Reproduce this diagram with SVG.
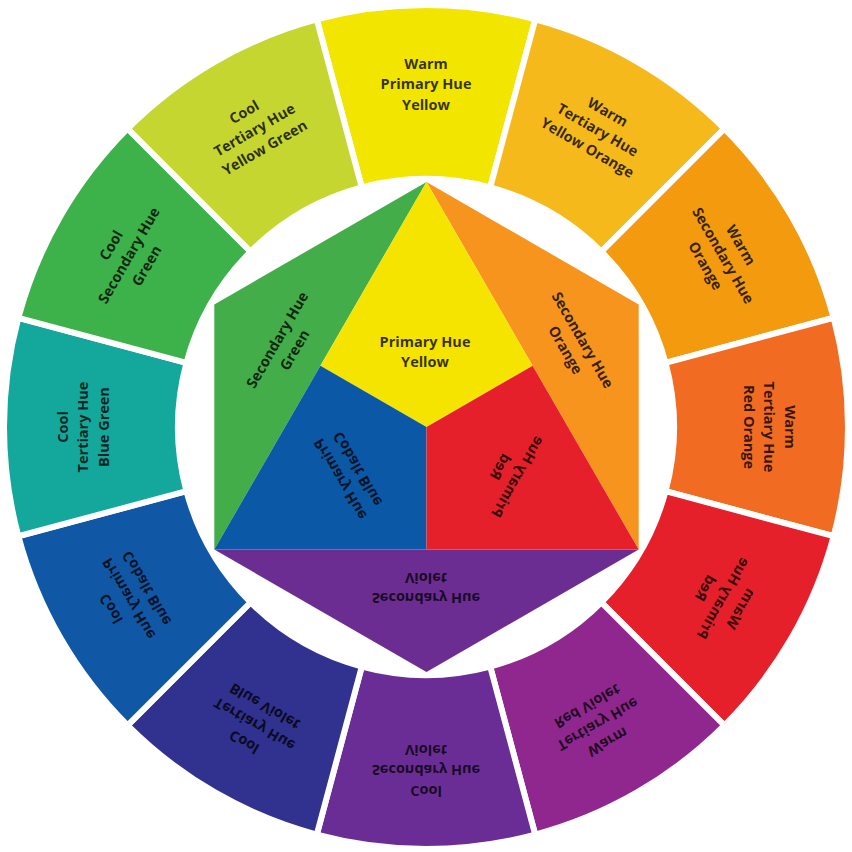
<svg xmlns="http://www.w3.org/2000/svg" width="852" height="852" viewBox="0 0 852 852">
<style>
.seg{stroke:#fff;stroke-width:6;stroke-linejoin:miter}
.t{font-family:"Open Sans","Liberation Sans",sans-serif;font-size:14.5px;font-weight:700;fill:#000;fill-opacity:.78;text-anchor:middle}
</style>
<rect width="852" height="852" fill="#fff"/>
<g id="ring">
<g id="seg-yellow"><path class="seg" fill="#f2e500" d="M316.78,19.38 A422,422 0 0 1 535.22,19.38 L490.19,187.45 A248,248 0 0 0 361.81,187.45 Z"/>
<g class="t" transform="translate(426,84)"><text y="-15.5">Warm</text><text y="5">Primary Hue</text><text y="25.5">Yellow</text></g></g>
<g id="seg-yellow-orange"><path class="seg" fill="#f6b91c" d="M535.22,19.38 A422,422 0 0 1 724.40,128.60 L601.36,251.64 A248,248 0 0 0 490.19,187.45 Z"/>
<g class="t" transform="translate(597.5,129.95) rotate(30)"><text y="-15.5">Warm</text><text y="5">Tertiary Hue</text><text y="25.5">Yellow Orange</text></g></g>
<g id="seg-orange"><path class="seg" fill="#f39a0f" d="M724.40,128.60 A422,422 0 0 1 833.62,317.78 L665.55,362.81 A248,248 0 0 0 601.36,251.64 Z"/>
<g class="t" transform="translate(723.05,255.5) rotate(60)"><text y="-15.5">Warm</text><text y="5">Secondary Hue</text><text y="25.5">Orange</text></g></g>
<g id="seg-red-orange"><path class="seg" fill="#f26b22" d="M833.62,317.78 A422,422 0 0 1 833.62,536.22 L665.55,491.19 A248,248 0 0 0 665.55,362.81 Z"/>
<g class="t" transform="translate(769,427) rotate(90)"><text y="-15.5">Warm</text><text y="5">Tertiary Hue</text><text y="25.5">Red Orange</text></g></g>
<g id="seg-red"><path class="seg" fill="#e6202a" d="M833.62,536.22 A422,422 0 0 1 724.40,725.40 L601.36,602.36 A248,248 0 0 0 665.55,491.19 Z"/>
<g class="t" transform="translate(723.05,598.5) scale(1,-1) rotate(60)"><text y="-15.5">Warm</text><text y="5">Primary Hue</text><text y="25.5">Red</text></g></g>
<g id="seg-red-violet"><path class="seg" fill="#90278f" d="M724.40,725.40 A422,422 0 0 1 535.22,834.62 L490.19,666.55 A248,248 0 0 0 601.36,602.36 Z"/>
<g class="t" transform="translate(597.5,724.05) scale(1,-1) rotate(30)"><text y="-15.5">Warm</text><text y="5">Tertiary Hue</text><text y="25.5">Red Violet</text></g></g>
<g id="seg-violet"><path class="seg" fill="#6a2d96" d="M535.22,834.62 A422,422 0 0 1 316.78,834.62 L361.81,666.55 A248,248 0 0 0 490.19,666.55 Z"/>
<g class="t" transform="translate(426,770) scale(1,-1)"><text y="-15.5">Cool</text><text y="5">Secondary Hue</text><text y="25.5">Violet</text></g></g>
<g id="seg-blue-violet"><path class="seg" fill="#31318f" d="M316.78,834.62 A422,422 0 0 1 127.60,725.40 L250.64,602.36 A248,248 0 0 0 361.81,666.55 Z"/>
<g class="t" transform="translate(254.5,724.05) scale(1,-1) rotate(-30)"><text y="-15.5">Cool</text><text y="5">Tertiary Hue</text><text y="25.5">Blue Violet</text></g></g>
<g id="seg-blue"><path class="seg" fill="#1058a6" d="M127.60,725.40 A422,422 0 0 1 18.38,536.22 L186.45,491.19 A248,248 0 0 0 250.64,602.36 Z"/>
<g class="t" transform="translate(128.95,598.5) scale(1,-1) rotate(-60)"><text y="-15.5">Cool</text><text y="5">Primary Hue</text><text y="25.5">Cobalt Blue</text></g></g>
<g id="seg-blue-green"><path class="seg" fill="#14a79b" d="M18.38,536.22 A422,422 0 0 1 18.38,317.78 L186.45,362.81 A248,248 0 0 0 186.45,491.19 Z"/>
<g class="t" transform="translate(83,427) rotate(-90)"><text y="-15.5">Cool</text><text y="5">Tertiary Hue</text><text y="25.5">Blue Green</text></g></g>
<g id="seg-green"><path class="seg" fill="#3db14a" d="M18.38,317.78 A422,422 0 0 1 127.60,128.60 L250.64,251.64 A248,248 0 0 0 186.45,362.81 Z"/>
<g class="t" transform="translate(128.95,255.5) rotate(-60)"><text y="-15.5">Cool</text><text y="5">Secondary Hue</text><text y="25.5">Green</text></g></g>
<g id="seg-yellow-green"><path class="seg" fill="#c5d631" d="M127.60,128.60 A422,422 0 0 1 316.78,19.38 L361.81,187.45 A248,248 0 0 0 250.64,251.64 Z"/>
<g class="t" transform="translate(254.5,129.95) rotate(-30)"><text y="-15.5">Cool</text><text y="5">Tertiary Hue</text><text y="25.5">Yellow Green</text></g></g>
</g>
<g id="hexagon">
<g id="in-green"><polygon fill="#43ad4a" points="426.5,182 214.3,304.5 214.3,549.5"/>
<g class="t" transform="translate(286,345) rotate(-60)"><text y="-5">Secondary Hue</text><text y="15">Green</text></g></g>
<g id="in-orange"><polygon fill="#f6941e" points="426.5,182 638.7,304.5 638.7,549.5"/>
<g class="t" transform="translate(574,345) rotate(60)"><text y="-5">Secondary Hue</text><text y="15">Orange</text></g></g>
<g id="in-violet"><polygon fill="#6b2d92" points="214.3,549.5 638.7,549.5 426.5,672"/>
<g class="t" transform="translate(426,588) scale(1,-1)"><text y="-5">Secondary Hue</text><text y="15">Violet</text></g></g>
<g id="in-yellow"><polygon fill="#f4e400" points="426.5,182 532.6,365.75 426.5,427 320.4,365.75"/>
<g class="t" transform="translate(425,352)"><text y="-5">Primary Hue</text><text y="15">Yellow</text></g></g>
<g id="in-blue"><polygon fill="#0b58a6" points="320.4,365.75 426.5,427 426.5,549.5 214.3,549.5"/>
<g class="t" transform="translate(349,474) scale(1,-1) rotate(-60)"><text y="-5">Primary Hue</text><text y="15">Cobalt Blue</text></g></g>
<g id="in-red"><polygon fill="#e6202a" points="426.5,427 532.6,365.75 638.7,549.5 426.5,549.5"/>
<g class="t" transform="translate(509,472) scale(1,-1) rotate(60)"><text y="-5">Primary Hue</text><text y="15">Red</text></g></g>
</g>
<g id="connectors"/>
</svg>
